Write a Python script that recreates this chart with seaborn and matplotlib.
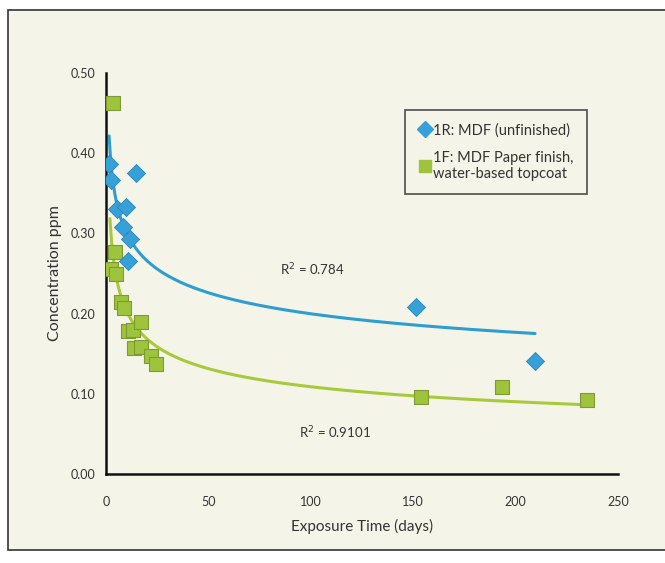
import numpy as np
import pandas as pd
import matplotlib
matplotlib.use("Agg")
import matplotlib.pyplot as plt
import seaborn as sns
from matplotlib.patches import Rectangle
from matplotlib.lines import Line2D

# ---- data ----
blue_days = [1.5, 2.4, 14.5, 5.2, 9.6, 8.4, 11.7, 10.9, 151.4, 209.5]
blue_conc = [0.387, 0.367, 0.375, 0.330, 0.333, 0.308, 0.293, 0.266, 0.208, 0.141]

green_days = [3.3, 2.4, 4.2, 4.8, 7.5, 9.0, 10.5, 13.0, 17.0, 13.5, 17.0, 22.0, 24.5, 154.0, 193.5, 235.0]
green_conc = [0.462, 0.255, 0.277, 0.250, 0.215, 0.207, 0.178, 0.180, 0.190, 0.157, 0.158, 0.147, 0.137, 0.096, 0.109, 0.092]

blue_label = "1R: MDF (unfinished)"
green_label = "1F: MDF Paper finish,\nwater-based topcoat"
r2_blue = "R$^2$ = 0.784"
r2_green = "R$^2$ = 0.9101"
x_ticks = [0, 50, 100, 150, 200, 250]
y_ticks = [0.0, 0.1, 0.2, 0.3, 0.4, 0.5]

BLUE = "#36a0d8"
BLUE_LINE = "#2e9dd0"
GREEN = "#9dc43c"
GREEN_LINE = "#a8c93c"
BG = "#f5f4e9"

sns.set_style("white")
plt.rcParams['font.family'] = ['Lato', 'DejaVu Sans']

fig = plt.figure(figsize=(6.65, 5.63), dpi=100)
fig.patch.set_facecolor("white")
fig.patches.append(Rectangle((8/665, 1-550/563), 1.2, (550-10)/563, transform=fig.transFigure,
                             facecolor=BG, edgecolor="#333333", linewidth=1.2, zorder=-10))

ax = fig.add_axes([106/665, 1-474/563, 512/665, 401/563])
ax.set_zorder(5)
ax.set_facecolor("none")

def power_fit(x, y):
    b, lna = np.polyfit(np.log(x), np.log(y), 1)
    return np.exp(lna), b

dfb = pd.DataFrame({"days": blue_days, "conc": blue_conc})
dfg = pd.DataFrame({"days": green_days, "conc": green_conc})

ab, bb = power_fit(dfb.days, dfb.conc)
ag, bg = power_fit(dfg.days, dfg.conc)
xb = np.linspace(min(blue_days), max(blue_days), 300)
xg = np.linspace(min(green_days) * 0.8, max(green_days), 300)
sns.lineplot(x=xb, y=ab * xb ** bb, color=BLUE_LINE, lw=2.2, ax=ax, zorder=2)
sns.lineplot(x=xg, y=ag * xg ** bg, color=GREEN_LINE, lw=2.2, ax=ax, zorder=2)

sns.scatterplot(data=dfg, x="days", y="conc", marker="s", s=95, color=GREEN,
                edgecolor="#7f9a35", linewidth=0.8, ax=ax, zorder=3)
sns.scatterplot(data=dfb, x="days", y="conc", marker="D", s=85, color=BLUE,
                edgecolor="#2f86b8", linewidth=0.6, ax=ax, zorder=4)

ax.set_xlim(0, 250)
ax.set_ylim(0, 0.5)
ax.set_xticks(x_ticks)
ax.set_xticklabels([str(t) for t in x_ticks])
ax.set_yticks(y_ticks)
ax.set_yticklabels([f"{t:.2f}" for t in y_ticks])
for s in ["top", "right"]:
    ax.spines[s].set_visible(False)
for s in ["left", "bottom"]:
    ax.spines[s].set_color("#111111")
    ax.spines[s].set_linewidth(1.8)
ax.tick_params(axis="both", direction="out", length=4, width=1.5, colors="#111111",
               labelsize=9, labelcolor="#333333")
ax.tick_params(axis="x", pad=12)
ax.set_xlabel("Exposure Time (days)", fontsize=11, color="#333333", labelpad=8)
ax.set_ylabel("Concentration ppm", fontsize=11.5, color="#333333", labelpad=6)

ax.text(85, 0.255, r2_blue, fontsize=9.5, color="#333333", ha="left", va="center")
ax.text(94, 0.051, r2_green, fontsize=9.5, color="#333333", ha="left", va="center")

handles = [Line2D([], [], marker="D", color=BLUE, ls="none", markersize=8),
           Line2D([], [], marker="s", color=GREEN, ls="none", markersize=8)]
leg = ax.legend(handles, [blue_label, green_label], loc="upper left",
                bbox_to_anchor=((405-106)/512, (474-110)/401), frameon=True,
                fontsize=10.5, handletextpad=0.15, handlelength=0.9, borderpad=0.9,
                labelspacing=0.9, fancybox=False, borderaxespad=0)
leg.get_frame().set_edgecolor("#222222")
leg.get_frame().set_linewidth(1.2)
leg.get_frame().set_facecolor(BG)
for t in leg.get_texts():
    t.set_color("#333333")

fig.savefig("out.png", dpi=100, facecolor=fig.get_facecolor())
